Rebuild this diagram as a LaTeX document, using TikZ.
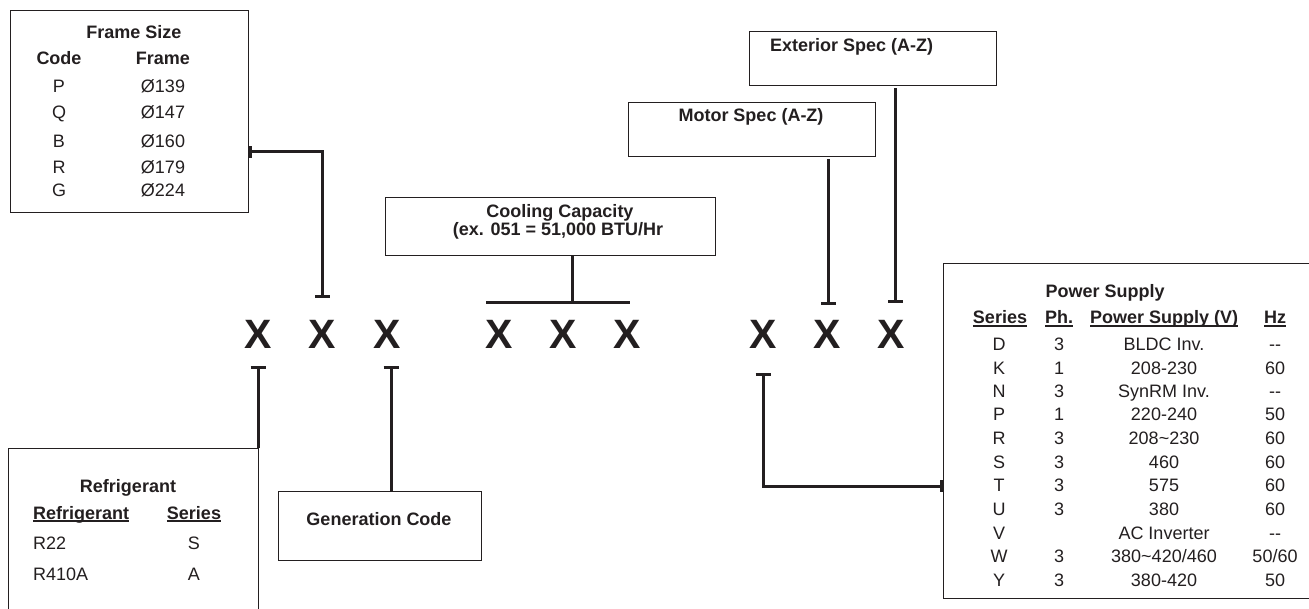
\documentclass[tikz,border=0pt]{standalone}
\usepackage{fontspec}
\setmainfont{Liberation Sans}
\usetikzlibrary{arrows.meta}
\definecolor{ink}{RGB}{35,31,32}
\newcommand\ulin[1]{\setbox0=\hbox{#1}\rlap{\rule[-2.6pt]{\wd0}{1.4pt}}\box0}
\begin{document}
\begin{tikzpicture}[x=1pt,y=-1pt,
  box/.style={draw=ink, line width=1.4pt, anchor=north west, inner sep=0pt, minimum width=#1},
  conn/.style={draw=ink, line width=3pt},
  txt/.style={inner sep=0pt, text=ink, font=\fontsize{18}{20}\selectfont, anchor=base},
  btxt/.style={txt, font=\fontsize{18}{20}\selectfont\bfseries},
  bigx/.style={inner sep=0pt, text=ink, font=\fontsize{41}{44}\selectfont\bfseries, anchor=base}]
\clip (0,0) rectangle (1309,609);
\useasboundingbox (0,0) rectangle (1309,609);
\fill[white] (0,0) rectangle (1309,609);

% boxes
\node[box=238pt, minimum height=202pt] (frame) at (10,10) {};
\node[box=250pt, minimum height=200pt] (refr) at (8,448) {};
\node[box=203pt, minimum height=69pt] (gen) at (278,491) {};
\node[box=330pt, minimum height=58pt] (cool) at (385,197) {};
\node[box=247pt, minimum height=54pt] (motor) at (628,102) {};
\node[box=247pt, minimum height=54pt] (ext) at (749,31) {};
\node[box=400pt, minimum height=335pt] (power) at (943,263) {};

% Frame size
\node[btxt] (fst) at (134,39) {Frame Size};
\node[btxt] (fsc) at (59,65) {Code};
\node[btxt] (fsf) at (163,65) {Frame};
\foreach \c/\f/\yy [count=\i] in {P/139/93, Q/147/119, B/160/148, R/179/174, G/224/197}{
  \node[txt] (fc\i) at (59,\yy) {\c};
  \node[txt] (ff\i) at (163,\yy) {Ø\f};
}

% Refrigerant
\node[btxt] (rt) at (128,492) {Refrigerant};
\node[btxt, anchor=base west] (rh1) at (33,519) {\ulin{Refrigerant}};
\node[btxt] (rh2) at (194,519) {\ulin{Series}};
\node[txt, anchor=base west] (r1) at (33,549) {R22};
\node[txt] (s1) at (194,549) {S};
\node[txt, anchor=base west] (r2) at (33,580) {R410A};
\node[txt] (s2) at (194,580) {A};

% other labels
\node[btxt] (gt) at (379,525) {Generation Code};
\node[btxt] (ct1) at (560,218) {Cooling Capacity};
\node[btxt] (ct2) at (558,236) {(ex. 051 = 51,000 BTU/Hr};
\node[btxt] (mt) at (751,122) {Motor Spec (A-Z)};
\node[btxt, anchor=base west] (et) at (770,52) {Exterior Spec (A-Z)};

% Power supply
\node[btxt] (pt) at (1105,298) {Power Supply};
\node[btxt] (ph1) at (1000,324) {\ulin{Series}};
\node[btxt] (ph2) at (1059,324) {\ulin{Ph.}};
\node[btxt] (ph3) at (1164,324) {\ulin{Power Supply (V)}};
\node[btxt] (ph4) at (1275,324) {\ulin{Hz}};
\foreach \s/\p/\v/\h/\yy [count=\i] in {
  D/3/BLDC Inv./-{}-/350.3,
  K/1/208-230/60/374.3,
  N/3/SynRM Inv./-{}-/397.7,
  P/1/220-240/50/420.3,
  R/3/208\textasciitilde230/60/444.3,
  S/3/460/60/468.3,
  T/3/575/60/491.7,
  U/3/380/60/515,
  V/{}/AC Inverter/-{}-/539,
  W/3/{380\textasciitilde420/460}/{50/60}/562.3,
  Y/3/380-420/50/586}{
  \node[txt] (pa\i) at (999,\yy) {\s};
  \node[txt] (pb\i) at (1059,\yy) {\p};
  \node[txt] (pc\i) at (1164,\yy) {\v};
  \node[txt] (pd\i) at (1275,\yy) {\h};
}

% code letters
\foreach \xx [count=\i] in {258,322,387,499,563,627,763,827,891}{
  \node[bigx] (x\i) at (\xx,349) {X};
}

% connectors
\coordinate (cbl) at (486,303);
\coordinate (cbr) at (630,303);
\coordinate (cmid) at (572,304);
\coordinate (x3c) at ([xshift=4pt]x3.south);
\coordinate (x8c) at ([xshift=1pt]x8.north);
\coordinate (x9c) at ([xshift=4pt]x9.north);
\draw[conn, {Bar[width=12pt]}-{Bar[width=15pt]}] (frame.east |- 0,152) -| (x2.north |- 0,298);
\draw[conn, {Bar[width=15pt]}-] (x1.south |- 0,366) -- (x1.south |- refr.north);
\draw[conn, {Bar[width=15pt]}-] (x3c |- 0,366) -- (x3c |- gen.north);
\draw[conn] (cbl) -- (cbr);
\draw[conn, -{Bar[width=10pt]}] (cool.south -| cmid) -- (cmid);
\draw[conn, -{Bar[width=15pt]}] ([yshift=-2pt]motor.south -| x8c) -- (x8c |- 0,305);
\draw[conn, -{Bar[width=15pt]}] ([yshift=-2pt]ext.south -| x9c) -- (x9c |- 0,303);
\draw[conn, {Bar[width=15pt]}-{Bar[width=12pt]}] (x7.south |- 0,373) |- (power.west |- 0,486);
\end{tikzpicture}
\end{document}
